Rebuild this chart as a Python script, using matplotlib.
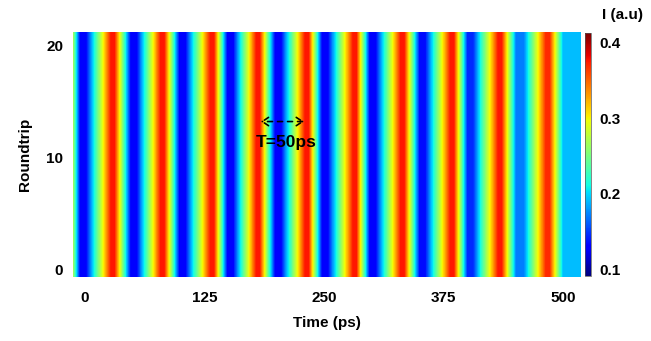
import numpy as np
import matplotlib
matplotlib.use('Agg')
import matplotlib.pyplot as plt

plt.rcParams['font.family'] = ['Liberation Sans', 'DejaVu Sans']
plt.rcParams['font.weight'] = 'bold'

# intensity profile along time (same for every roundtrip)
time_ps = [-13, -5, 1, 27, 31,
           48, 54, 79, 83,
           99, 105, 131, 135,
           149, 155, 179, 183,
           199, 205, 230, 234,
           248, 254, 280, 284,
           298, 304, 330, 334,
           350, 356, 382, 386,
           400, 406, 432, 436,
           451, 459, 482, 486,
           500, 520]
intensity = [0.28, 0.13, 0.13, 0.375, 0.375,
             0.13, 0.13, 0.375, 0.375,
             0.13, 0.13, 0.375, 0.375,
             0.13, 0.13, 0.375, 0.375,
             0.13, 0.13, 0.375, 0.375,
             0.13, 0.13, 0.375, 0.375,
             0.13, 0.13, 0.375, 0.375,
             0.135, 0.135, 0.375, 0.375,
             0.145, 0.145, 0.375, 0.375,
             0.17, 0.17, 0.37, 0.37,
             0.19, 0.19]
roundtrip_edges = [-0.62, 21.16]

xticks = [0, 125, 250, 375, 500]
yticks = [0, 10, 20]
cticks = [0.1, 0.2, 0.3, 0.4]
vmin, vmax = 0.092, 0.412

fig = plt.figure(figsize=(6.51, 3.41), dpi=100)
ax = fig.add_axes([0.112, 0.188, 0.7805, 0.718])
cax = fig.add_axes([0.8986, 0.191, 0.0092, 0.712])

T, R = np.meshgrid(time_ps, roundtrip_edges)
C = np.tile(intensity, (len(roundtrip_edges), 1))
cf = ax.contourf(T, R, C, levels=np.linspace(vmin, vmax, 161), cmap='jet',
                 vmin=vmin, vmax=vmax, antialiased=False)

ax.set_xlim(-12.6, 518.8)
ax.set_ylim(roundtrip_edges[0], roundtrip_edges[1])
ax.set_xticks(xticks)
ax.set_yticks(yticks)
ax.tick_params(length=0, labelsize=11)
ax.tick_params(axis='x', pad=10)
ax.tick_params(axis='y', pad=7)
for s in ax.spines.values():
    s.set_visible(False)
ax.set_xlabel('Time (ps)', fontsize=11, fontweight='bold', labelpad=8)
ax.set_ylabel('Roundtrip', fontsize=11, fontweight='bold', labelpad=10)

# period marker
ax.annotate('', xy=(181, 13.2), xytext=(232, 13.2),
            arrowprops=dict(arrowstyle='<->,head_length=0.45,head_width=0.3',
                            linestyle=(0, (3, 3)), lw=1.2, color='black'))
ax.text(210, 11.3, 'T=50ps', ha='center', va='center', fontsize=12.5, fontweight='bold')

sm = plt.cm.ScalarMappable(cmap='jet', norm=plt.Normalize(vmin, vmax))
cb = fig.colorbar(sm, cax=cax, ticks=cticks)
cb.outline.set_linewidth(0.5)
cb.outline.set_edgecolor('#555555')
cb.ax.tick_params(length=0, labelsize=11, pad=6)
cb.ax.set_yticklabels(['0.1', '0.2', '0.3', '0.4'])
fig.text(622 / 651, 1 - 15 / 341, 'I (a.u)', ha='center', va='center', fontsize=11, fontweight='bold')

fig.savefig('out.png', dpi=100)
